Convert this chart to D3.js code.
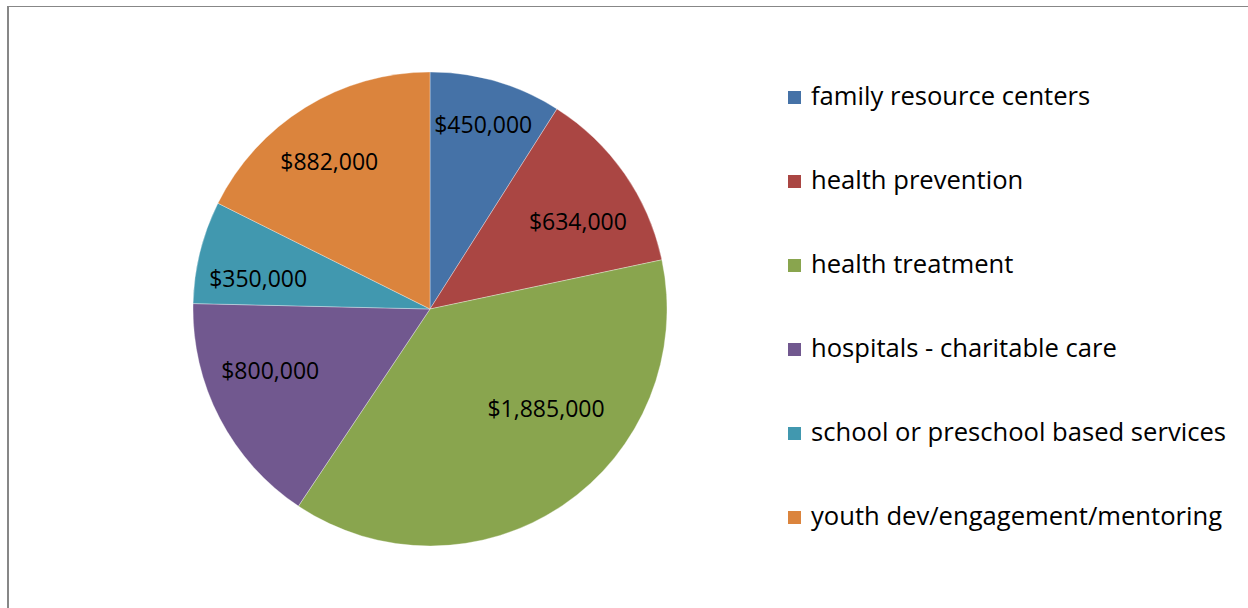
<!DOCTYPE html>
<html>
<head>
<meta charset="utf-8">
<script src="https://cdn.jsdelivr.net/npm/d3@7"></script>
<style>
  html, body { margin: 0; padding: 0; background: #fff; }
  svg { display: block; }
  text { font-family: "Open Sans", "Noto Sans", sans-serif; fill: #000; }
</style>
</head>
<body>
<svg id="chart" width="1248" height="608"></svg>
<script>
const categories = [
  "family resource centers",
  "health prevention",
  "health treatment",
  "hospitals - charitable care",
  "school or preschool based services",
  "youth dev/engagement/mentoring"
];
const values = [450000, 634000, 1885000, 800000, 350000, 882000];
const colors = ["#4572A7", "#AA4643", "#89A54E", "#71588F", "#4198AF", "#DB843D"];

const svg = d3.select("#chart");

// frame
svg.append("line").attr("x1", 7).attr("y1", 6.5).attr("x2", 1248).attr("y2", 6.5)
  .attr("stroke", "#878787").attr("stroke-width", 1);
svg.append("line").attr("x1", 8).attr("y1", 6).attr("x2", 8).attr("y2", 608)
  .attr("stroke", "#878787").attr("stroke-width", 2);

const cx = 430, cy = 309, R = 237;
const data = categories.map((c, i) => ({ name: c, value: values[i], color: colors[i] }));
const pie = d3.pie().value(d => d.value).sort(null);
const arcs = pie(data);
const arc = d3.arc().innerRadius(0).outerRadius(R);
const labelArc = d3.arc().innerRadius(R * 0.76).outerRadius(R * 0.76);
const fmt = d3.format("$,");

const g = svg.append("g").attr("transform", `translate(${cx},${cy})`);
g.selectAll("path.slice").data(arcs).enter().append("path")
  .attr("class", "slice")
  .attr("d", arc)
  .attr("fill", d => d.data.color)
  .attr("stroke", "rgba(255,255,255,0.55)")
  .attr("stroke-width", 0.6);

// small layout nudges for label placement (Excel "best fit")
const labelNudge = [[3, -12], [0, 15], [15, -50], [0, -22], [3, 12], [-6, 5]];
g.selectAll("text.lbl").data(arcs).enter().append("text")
  .attr("class", "lbl")
  .attr("x", (d, i) => labelArc.centroid(d)[0] + labelNudge[i][0])
  .attr("y", (d, i) => labelArc.centroid(d)[1] + labelNudge[i][1])
  .attr("text-anchor", "middle")
  .attr("dominant-baseline", "central")
  .style("font-size", "23px")
  .text(d => fmt(d.data.value));

// legend
const legend = svg.append("g");
const ly = d3.scalePoint().domain(categories).range([97, 517]);
const items = legend.selectAll("g").data(data).enter().append("g")
  .attr("transform", d => `translate(0,${ly(d.name)})`);
items.append("rect").attr("x", 788).attr("y", -6).attr("width", 13).attr("height", 13)
  .attr("fill", d => d.color);
items.append("text").attr("x", 811).attr("y", -2)
  .attr("dominant-baseline", "central")
  .style("font-size", "25.6px")
  .text(d => d.name);
</script>
</body>
</html>
